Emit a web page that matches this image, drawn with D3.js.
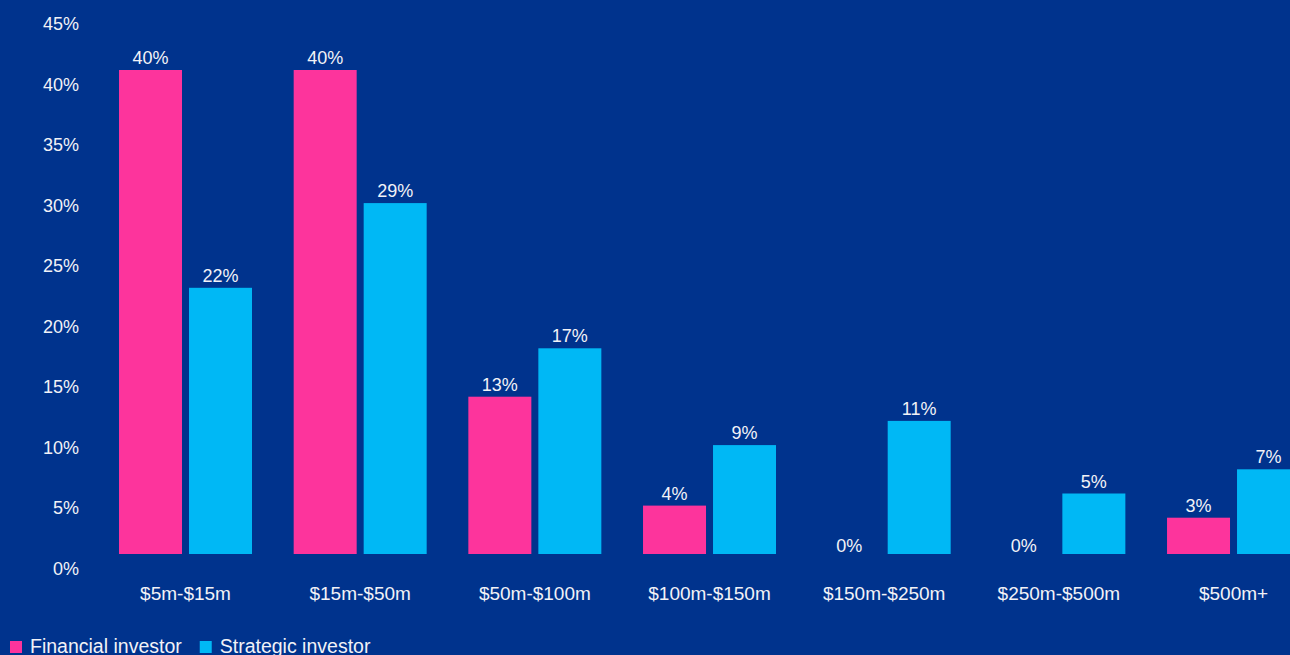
<!DOCTYPE html>
<html>
<head>
<meta charset="utf-8">
<script src="https://cdn.jsdelivr.net/npm/d3@7"></script>
<style>
  html, body { margin: 0; padding: 0; background: #00338D; overflow: hidden; }
  svg { display: block; }
  text { font-family: "Liberation Sans", Arial, sans-serif; fill: #f2f2f7; }
</style>
</head>
<body>
<svg id="chart" width="1290" height="655"></svg>
<script>
// Deal size bands and share of deals by investor type (%)
const categories = ["$5m-$15m", "$15m-$50m", "$50m-$100m", "$100m-$150m", "$150m-$250m", "$250m-$500m", "$500m+"];
const seriesNames = ["Financial investor", "Strategic investor"];
const financial = [40, 40, 13, 4, 0, 0, 3];
const strategic = [22, 29, 17, 9, 11, 5, 7];
const yTicks = [0, 5, 10, 15, 20, 25, 30, 35, 40, 45];
const colors = ["#FD349C", "#00B8F5"];

const rows = categories.map((c, i) => ({ cat: c, values: [financial[i], strategic[i]] }));

const svg = d3.select("#chart");

const step = 174.67;
const x0 = 98.17;
const x = d3.scaleBand()
  .domain(categories)
  .range([x0, x0 + step * categories.length])
  .paddingInner(0.2386)
  .paddingOuter(0.1193);

const xs = d3.scaleBand()
  .domain(seriesNames)
  .range([0, x.bandwidth()])
  .paddingInner(0.1);

const y = d3.scaleLinear().domain([0, 45]).range([554, 554 - 45 * 12.1]);

// y-axis labels (no line, labels hang below their tick position)
const yAxis = d3.axisLeft(y).tickValues(yTicks).tickFormat(d => d + "%").tickSize(0).tickPadding(0);
const yg = svg.append("g").attr("transform", "translate(79,0)").call(yAxis);
yg.select(".domain").remove();
yg.selectAll("text")
  .attr("dy", null)
  .attr("y", 20)
  .attr("font-size", 18)
  .attr("font-family", "Liberation Sans, Arial, sans-serif")
  .attr("fill", "#f2f2f7");

// x-axis labels
const xAxis = d3.axisBottom(x).tickSize(0).tickPadding(0);
const xg = svg.append("g").attr("transform", "translate(0,600)").call(xAxis);
xg.select(".domain").remove();
xg.selectAll("text")
  .attr("dy", null)
  .attr("y", 0)
  .attr("font-size", 19)
  .attr("font-family", "Liberation Sans, Arial, sans-serif")
  .attr("fill", "#f2f2f7");

// bars
const groups = svg.append("g").selectAll("g")
  .data(rows)
  .join("g")
  .attr("transform", d => `translate(${x(d.cat)},0)`);

groups.selectAll("rect")
  .data(d => d.values.map((v, j) => ({ name: seriesNames[j], v, j })))
  .join("rect")
  .attr("x", d => xs(d.name))
  .attr("width", xs.bandwidth())
  .attr("y", d => y(d.v))
  .attr("height", d => y(0) - y(d.v))
  .attr("fill", d => colors[d.j]);

groups.selectAll("text.val")
  .data(d => d.values.map((v, j) => ({ name: seriesNames[j], v, j })))
  .join("text")
  .attr("class", "val")
  .attr("x", d => xs(d.name) + xs.bandwidth() / 2)
  .attr("y", d => y(d.v) - (d.v === 0 ? 2 : 6))
  .attr("text-anchor", "middle")
  .attr("font-size", 18)
  .text(d => d.v + "%");

// legend
const legend = svg.append("g").attr("transform", "translate(10,641)");
let lx = 0;
seriesNames.forEach((name, j) => {
  const item = legend.append("g").attr("transform", `translate(${lx},0)`);
  item.append("rect").attr("width", 12).attr("height", 12).attr("fill", colors[j]);
  const t = item.append("text").attr("x", 20).attr("y", 12).attr("font-size", 19.5).text(name);
  lx += 20 + t.node().getComputedTextLength() + 18;
});
</script>
</body>
</html>
